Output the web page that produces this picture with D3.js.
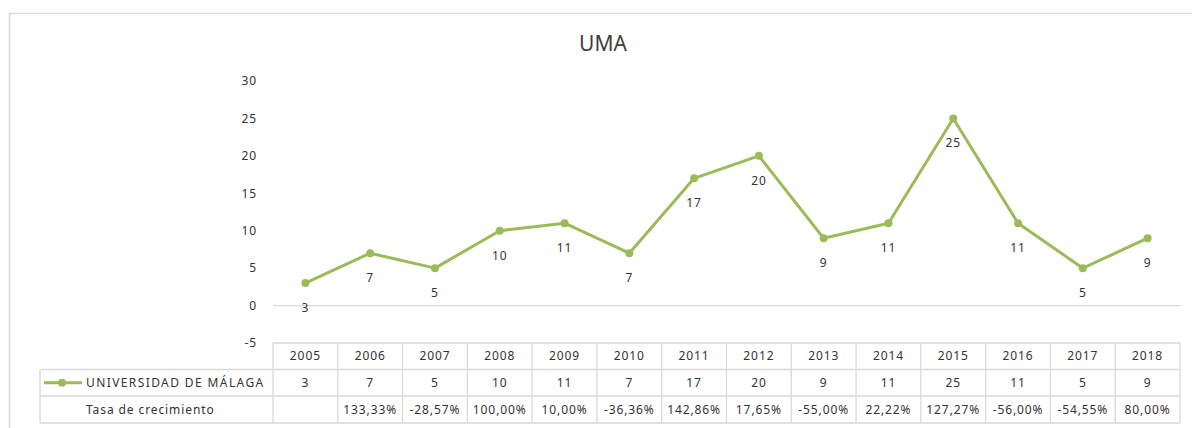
<!DOCTYPE html>
<html>
<head>
<meta charset="utf-8">
<script src="https://cdn.jsdelivr.net/npm/d3@7"></script>
<style>
  body { margin: 0; background: #fff; }
  text { font-family: "Noto Sans", "Open Sans", sans-serif; fill: #333; }
</style>
</head>
<body>
<div id="chart"></div>
<script>
// data
var years = ["2005", "2006", "2007", "2008", "2009", "2010", "2011", "2012", "2013", "2014", "2015", "2016", "2017", "2018"];
var values = [3, 7, 5, 10, 11, 7, 17, 20, 9, 11, 25, 11, 5, 9];
var growth = ["", "133,33%", "-28,57%", "100,00%", "10,00%", "-36,36%", "142,86%", "17,65%", "-55,00%", "22,22%", "127,27%", "-56,00%", "-54,55%", "80,00%"];
var yTicks = [-5, 0, 5, 10, 15, 20, 25, 30];
var seriesName = "UNIVERSIDAD DE MÁLAGA";
var growthName = "Tasa de crecimiento";

var svgWidth = 1192, svgHeight = 428;
var green = "#9bbb59", grid = "#d9d9d9";
var small = "12px", spacing = "0.9px";

var svg = d3.select("#chart").append("svg")
  .attr("width", svgWidth)
  .attr("height", svgHeight);

// outer chart border
svg.append("rect")
  .attr("x", 9.5).attr("y", 13.5)
  .attr("width", 1200).attr("height", 440)
  .attr("fill", "none").attr("stroke", grid).attr("stroke-width", 1.5);

// title
svg.append("text")
  .attr("x", 603).attr("y", 51)
  .attr("text-anchor", "middle")
  .style("font-size", "21px")
  .style("fill", "#404040")
  .text("UMA");

// scales
var x = d3.scaleBand().domain(years).range([273, 1180]);
var y = d3.scaleLinear().domain([-5, 30]).range([343, 81]);

// y axis
var yAxis = svg.append("g")
  .attr("transform", "translate(273,0)")
  .call(d3.axisLeft(y).tickValues(yTicks).tickSize(0).tickPadding(16)
    .tickFormat(function(d) { return String(d); }));
yAxis.select(".domain").remove();
yAxis.selectAll("text")
  .style("font-family", "'Noto Sans', sans-serif")
  .style("font-size", small)
  .style("letter-spacing", spacing)
  .style("fill", "#333");

// zero line
svg.append("line")
  .attr("x1", 273).attr("x2", 1180)
  .attr("y1", y(0)).attr("y2", y(0))
  .attr("stroke", grid).attr("stroke-width", 1.3);

// line + markers
var cx = function(d, i) { return x(years[i]) + x.bandwidth() / 2; };
var line = d3.line()
  .x(cx)
  .y(function(d) { return y(d); });

svg.append("path")
  .datum(values)
  .attr("d", line)
  .attr("fill", "none")
  .attr("stroke", green)
  .attr("stroke-width", 3)
  .attr("stroke-linejoin", "round");

svg.selectAll(".dot")
  .data(values).enter()
  .append("circle")
  .attr("cx", cx)
  .attr("cy", function(d) { return y(d); })
  .attr("r", 4)
  .attr("fill", green);

// data labels (below points)
svg.selectAll(".lbl")
  .data(values).enter()
  .append("text")
  .attr("x", cx)
  .attr("y", function(d) { return y(d) + 29; })
  .attr("text-anchor", "middle")
  .style("font-size", small)
  .style("letter-spacing", spacing)
  .text(function(d) { return d; });

// data table
var rowTop = [343, 369.5, 396, 423];
var tbl = svg.append("g").attr("stroke", grid).attr("stroke-width", 1.3);

// horizontal lines
tbl.append("line").attr("x1", 273).attr("x2", 1180).attr("y1", rowTop[0]).attr("y2", rowTop[0]);
[1, 2, 3].forEach(function(r) {
  tbl.append("line").attr("x1", 40).attr("x2", 1180).attr("y1", rowTop[r]).attr("y2", rowTop[r]);
});
// vertical lines
years.forEach(function(yr) {
  tbl.append("line").attr("x1", x(yr)).attr("x2", x(yr)).attr("y1", rowTop[0]).attr("y2", rowTop[3]);
});
tbl.append("line").attr("x1", 1180).attr("x2", 1180).attr("y1", rowTop[0]).attr("y2", rowTop[3]);
tbl.append("line").attr("x1", 40).attr("x2", 40).attr("y1", rowTop[1]).attr("y2", rowTop[3]);

var rowText = [years, values, growth];
rowText.forEach(function(arr, r) {
  svg.selectAll(".row" + r)
    .data(arr).enter()
    .append("text")
    .attr("x", function(d, i) { return x(years[i]) + x.bandwidth() / 2; })
    .attr("y", (rowTop[r] + rowTop[r + 1]) / 2 + 4)
    .attr("text-anchor", "middle")
    .style("font-size", small)
    .style("letter-spacing", spacing)
    .text(function(d) { return d; });
});

// legend key in table
var ky = (rowTop[1] + rowTop[2]) / 2;
svg.append("line")
  .attr("x1", 44).attr("x2", 82).attr("y1", ky).attr("y2", ky)
  .attr("stroke", green).attr("stroke-width", 3);
svg.append("circle")
  .attr("cx", 62).attr("cy", ky).attr("r", 4).attr("fill", green);
svg.append("text")
  .attr("x", 86).attr("y", ky + 4)
  .style("font-size", small)
  .style("letter-spacing", "1.4px")
  .text(seriesName);
svg.append("text")
  .attr("x", 86).attr("y", (rowTop[2] + rowTop[3]) / 2 + 4)
  .style("font-size", small)
  .style("letter-spacing", spacing)
  .text(growthName);
</script>
</body>
</html>
